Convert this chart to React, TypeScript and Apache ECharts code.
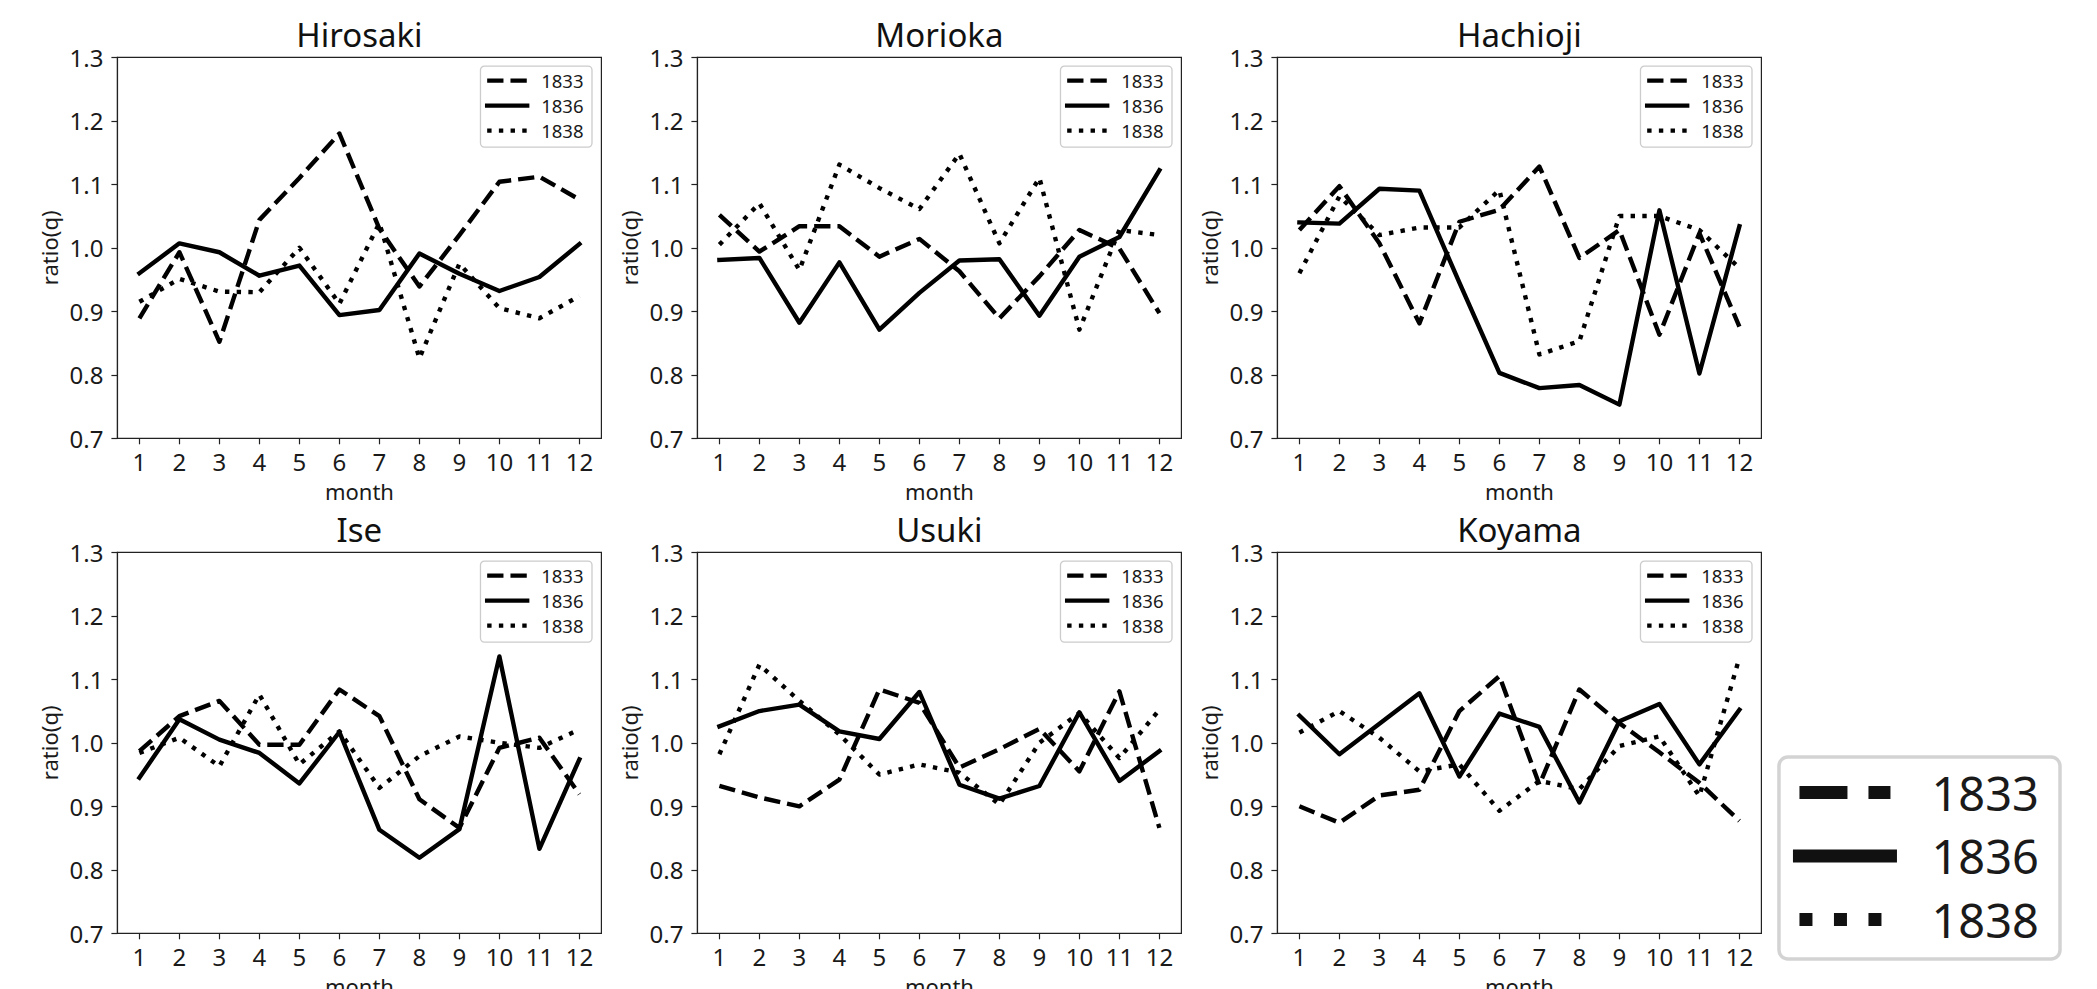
import { useEffect, useRef } from 'react';
import * as echarts from 'echarts';

const months = [1, 2, 3, 4, 5, 6, 7, 8, 9, 10, 11, 12];
const years = ['1833', '1836', '1838'];
const cities = ['Hirosaki', 'Morioka', 'Hachioji', 'Ise', 'Usuki', 'Koyama'];
const yTicks = [0.7, 0.8, 0.9, 1.0, 1.1, 1.2, 1.3];

const hirosaki1833 = [0.889, 0.993, 0.852, 1.044, 1.11, 1.18, 1.03, 0.939, 1.02, 1.104, 1.112, 1.076];
const hirosaki1836 = [0.96, 1.007, 0.993, 0.956, 0.972, 0.894, 0.902, 0.991, 0.959, 0.932, 0.954, 1.006];
const hirosaki1838 = [0.915, 0.951, 0.931, 0.93, 1.0, 0.912, 1.039, 0.826, 0.975, 0.905, 0.889, 0.924];

const morioka1833 = [1.052, 0.994, 1.034, 1.034, 0.986, 1.014, 0.963, 0.889, 0.955, 1.028, 0.999, 0.897];
const morioka1836 = [0.981, 0.984, 0.882, 0.977, 0.871, 0.929, 0.98, 0.982, 0.893, 0.986, 1.017, 1.122];
const morioka1838 = [1.005, 1.07, 0.965, 1.131, 1.094, 1.061, 1.148, 1.007, 1.11, 0.871, 1.028, 1.02];

const hachioji1833 = [1.028, 1.097, 1.007, 0.881, 1.041, 1.06, 1.128, 0.984, 1.028, 0.863, 1.023, 0.876];
const hachioji1836 = [1.04, 1.038, 1.093, 1.09, 0.945, 0.803, 0.779, 0.784, 0.753, 1.059, 0.802, 1.034];
const hachioji1838 = [0.96, 1.081, 1.02, 1.032, 1.032, 1.091, 0.832, 0.853, 1.05, 1.05, 1.028, 0.968];

const ise1833 = [0.987, 1.042, 1.066, 0.997, 0.997, 1.084, 1.042, 0.911, 0.866, 0.992, 1.008, 0.919];
const ise1836 = [0.945, 1.037, 1.005, 0.984, 0.936, 1.017, 0.863, 0.819, 0.864, 1.136, 0.833, 0.974];
const ise1838 = [0.984, 1.008, 0.963, 1.076, 0.966, 1.018, 0.929, 0.979, 1.01, 1.0, 0.992, 1.021];

const usuki1833 = [0.932, 0.914, 0.9, 0.942, 1.084, 1.063, 0.961, 0.99, 1.022, 0.955, 1.081, 0.866];
const usuki1836 = [1.026, 1.05, 1.06, 1.018, 1.006, 1.08, 0.934, 0.912, 0.932, 1.048, 0.94, 0.987];
const usuki1838 = [0.982, 1.123, 1.066, 1.013, 0.95, 0.966, 0.953, 0.903, 1.0, 1.047, 0.976, 1.052];

const koyama1833 = [0.9, 0.874, 0.917, 0.926, 1.05, 1.105, 0.934, 1.084, 1.031, 0.985, 0.937, 0.877];
const koyama1836 = [1.043, 0.982, 1.03, 1.078, 0.947, 1.046, 1.025, 0.906, 1.034, 1.061, 0.966, 1.052];
const koyama1838 = [1.016, 1.05, 1.008, 0.955, 0.966, 0.893, 0.94, 0.927, 0.995, 1.01, 0.916, 1.134];

const cityValues = [
  [hirosaki1833, hirosaki1836, hirosaki1838],
  [morioka1833, morioka1836, morioka1838],
  [hachioji1833, hachioji1836, hachioji1838],
  [ise1833, ise1836, ise1838],
  [usuki1833, usuki1836, usuki1838],
  [koyama1833, koyama1836, koyama1838],
];

const W = 2097;
const H = 989;
const FONT = '"Noto Sans", "DejaVu Sans", sans-serif';
const LW = 4.4;
const lineTypes: any[] = [[16.3, 7.0], 'solid', [4.4, 7.3]];
const lineCaps = ['butt', 'square', 'butt'];
const bigLineTypes: any[] = [[48, 21], 'solid', [13, 21.5]];

const colLeft = [117.4, 697.4, 1277.4];
const rowTop = [57.3, 552.3];
const PW = 484;
const PH = 381;

function buildOption() {
  const grids: any[] = [];
  const xAxes: any[] = [];
  const yAxes: any[] = [];
  const series: any[] = [];
  const titles: any[] = [];
  const legends: any[] = [];

  cities.forEach((city, i) => {
    const col = i % 3;
    const row = Math.floor(i / 3);
    const left = colLeft[col];
    const top = rowTop[row];
    grids.push({
      left, top, width: PW, height: PH,
      show: true, borderColor: '#222', borderWidth: 1.2, backgroundColor: '#fff',
      containLabel: false, outerBoundsMode: 'none',
    });
    xAxes.push({
      type: 'value', gridIndex: i, min: 0.45, max: 12.55,
      name: 'month', nameLocation: 'middle', nameGap: 42, nameMoveOverlap: false,
      nameTextStyle: { fontFamily: FONT, fontSize: 22, color: '#1a1a1a' },
      axisLine: { show: true, onZero: false, lineStyle: { color: '#222', width: 1.2 } },
      axisTick: { show: true, length: 6, inside: false, lineStyle: { color: '#222', width: 1.2 }, customValues: months },
      axisLabel: { show: true, margin: 11, fontFamily: FONT, fontSize: 24, color: '#1a1a1a', customValues: months, formatter: (v: number) => String(v) },
      splitLine: { show: false },
    });
    yAxes.push({
      type: 'value', gridIndex: i, min: 0.7, max: 1.3, interval: 0.1,
      name: 'ratio(q)', nameLocation: 'middle', nameGap: 57, nameRotate: 90, nameMoveOverlap: false,
      nameTextStyle: { fontFamily: FONT, fontSize: 22, color: '#1a1a1a' },
      axisLine: { show: true, lineStyle: { color: '#222', width: 1.2 } },
      axisTick: { show: true, length: 6, lineStyle: { color: '#222', width: 1.2 } },
      axisLabel: { show: true, margin: 14, fontFamily: FONT, fontSize: 24, color: '#1a1a1a', formatter: (v: number) => v.toFixed(1), customValues: yTicks },
      splitLine: { show: false },
    });
    titles.push({
      text: city, left: left + PW / 2, top: top - 23, textAlign: 'center', textVerticalAlign: 'middle', padding: 0,
      textStyle: { fontFamily: FONT, fontSize: 33, fontWeight: 'normal', color: '#111' },
    });
    years.forEach((yr, k) => {
      series.push({
        type: 'line', name: yr, xAxisIndex: i, yAxisIndex: i,
        data: months.map((m, j) => [m, cityValues[i][k][j]]),
        symbol: 'none', showSymbol: false, silent: true, clip: true,
        lineStyle: { color: '#000', width: LW, type: lineTypes[k], cap: lineCaps[k], join: 'round' },
        itemStyle: { color: '#000' },
        z: 2 + k,
      });
    });
    legends.push({
      orient: 'vertical', right: W - (left + PW - 9.4), top: top + 8.8,
      selectedMode: false, align: 'left',
      data: years.map((y) => ({ name: y })),
      itemWidth: 40, itemHeight: 14, itemGap: 6,
      padding: [5, 8.5, 7, 4.5],
      backgroundColor: 'rgba(255,255,255,0.8)', borderColor: '#cccccc', borderWidth: 1.3, borderRadius: 4,
      textStyle: { fontFamily: FONT, fontSize: 18.5, color: '#1a1a1a', lineHeight: 18, padding: [0, 0, 0, 9] },
      itemStyle: { color: 'rgba(0,0,0,0)', borderWidth: 0, opacity: 0 },
      lineStyle: { width: 'inherit', type: 'inherit', color: '#000' },
      z: 10,
    });
  });

  legends.push({
    orient: 'vertical', right: 37, top: 757,
    selectedMode: false, align: 'left',
    data: years.map((y, k) => ({
      name: y,
      lineStyle: { width: 13, type: bigLineTypes[k], cap: k === 1 ? 'square' : 'butt', color: '#111' },
    })),
    itemWidth: 91, itemHeight: 14, itemGap: 16.5,
    padding: [12, 21, 16, 14],
    backgroundColor: '#fff', borderColor: '#d3d3d3', borderWidth: 3.5, borderRadius: 9,
    textStyle: { fontFamily: FONT, fontSize: 47, color: '#1a1a1a', lineHeight: 44, padding: [0, 0, 0, 36] },
    itemStyle: { color: 'rgba(0,0,0,0)', borderWidth: 0, opacity: 0 },
    z: 10,
  });

  return {
    animation: false,
    backgroundColor: '#fff',
    title: titles,
    grid: grids,
    xAxis: xAxes,
    yAxis: yAxes,
    legend: legends,
    series,
  };
}

export default function App() {
  const ref = useRef<HTMLDivElement>(null);
  useEffect(() => {
    if (!ref.current) return;
    const chart = echarts.init(ref.current, undefined, { renderer: 'svg' });
    chart.setOption(buildOption() as any);
    return () => chart.dispose();
  }, []);
  return (
    <div
      ref={ref}
      style={{ position: 'fixed', left: 0, top: 0, width: W, height: H, background: '#fff' }}
    />
  );
}
